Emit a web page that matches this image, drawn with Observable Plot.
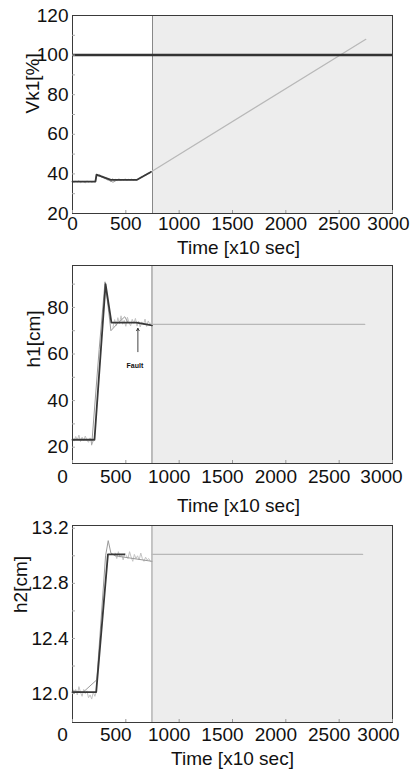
<!DOCTYPE html>
<html><head><meta charset="utf-8">
<script src="https://cdn.jsdelivr.net/npm/d3@7"></script>
<script src="https://cdn.jsdelivr.net/npm/@observablehq/plot@0.6"></script>
<style>
body{margin:0;background:#fff;width:412px;height:773px;overflow:hidden;position:relative;font-family:"Liberation Sans",Arial,sans-serif}
.p{position:absolute;left:0}
</style></head><body>
<div id="p1" class="p" style="top:0"></div>
<div id="p2" class="p" style="top:252px"></div>
<div id="p3" class="p" style="top:512px"></div>
<script>
// ---- shared axis data ----
const xTicks = [0, 500, 1000, 1500, 2000, 2500, 3000];
const xLabel = "Time [x10 sec]";

// ---- Panel 1 : Vk1 ----
const vk1Label = "Vk1[%]";
const vk1YTicks = [20, 40, 60, 80, 100, 120];
const vk1YMinor = [30, 40, 50, 60, 70, 80, 90, 100, 110];
const vk1Fault = 750;
const vk1Limit = 100;
const vk1NoiseT = [0,15,30,45,60,75,90,105,120,135,150,165,180,195,210,225,240,255,270,285,300,315,330,345,360,375,390,405,420,435,450,465,480,495,510,525,540,555,570,585,600,615,630,645,660,675,690,705,720,735,750];
const vk1NoiseV = [36.3,35.6,36.4,35.9,36.6,35.5,36.2,36.0,35.4,36.5,35.8,36.3,35.7,36.1,35.9,39.5,38.6,39.8,38.4,38.9,37.6,38.2,36.8,37.5,35.9,37.8,36.3,37.4,36.6,37.7,36.4,37.3,36.8,37.6,36.5,37.4,36.9,37.5,36.6,37.3,36.8,37.6,37.9,38.8,38.5,39.6,39.2,40.4,40.1,41.3,41.0];
const vk1ModelT = [0, 215, 225, 360, 605, 735];
const vk1ModelV = [36.1, 36.1, 39.6, 37.0, 37.0, 41.0];
const vk1EstT = [0, 215, 230, 380, 420, 605, 750];
const vk1EstV = [36.2, 36.2, 39.5, 35.8, 37.0, 37.0, 41.5];
const vk1PredT = [750, 2750];
const vk1PredV = [41.5, 108];

// ---- Panel 2 : h1 ----
const h1Label = "h1[cm]";
const h1YTicks = [20, 40, 60, 80];
const h1YMinor = [20, 30, 40, 50, 60, 70, 80, 90];
const h1Fault = 745;
const h1NoiseAT = [0,15,30,45,60,75,90,105,120,135,150,165,180,195];
const h1NoiseAV = [23.8,22.6,24.6,23.1,25.2,22.4,24.3,22.9,24.8,23.0,22.1,24.0,21.3,22.5];
const h1NoiseBT = [380,395,410,425,440,455,470,485,500,515,530,545,560,575,590,605,620,635,650,665,680,695,710,725,740];
const h1NoiseBV = [71.5,74.8,72.2,75.6,73.0,76.4,72.8,74.5,71.9,75.8,73.4,72.1,74.9,73.2,75.3,72.0,74.1,71.6,73.8,72.5,75.0,71.8,74.2,72.9,73.6];
const h1ModelT = [0, 206, 310, 365, 600, 745];
const h1ModelV = [23.2, 23.2, 90, 73.5, 73.5, 72.3];
const h1EstT = [180, 250, 305, 340, 360, 420, 490, 520];
const h1EstV = [21, 62, 91, 78, 70, 73, 76, 73.5];
const h1PredT = [745, 2740];
const h1PredV = [72.7, 72.7];
const faultText = "Fault";
const faultArrow = {x: 613, y1: 61, y2: 71, ty: 55};

// ---- Panel 3 : h2 ----
const h2Label = "h2[cm]";
const h2YTicks = [12.0, 12.4, 12.8, 13.2];
const h2YMinor = [12.0, 12.2, 12.4, 12.6, 12.8, 13.0, 13.2];
const h2Fault = 745;
const h2NoiseAT = [0,15,30,45,60,75,90,105,120,135,150,165,180,195,210,225];
const h2NoiseAV = [12.04,12.00,12.03,11.99,12.05,12.01,11.98,12.03,12.00,12.02,11.97,11.99,11.96,12.01,11.98,12.02];
const h2NoiseBT = [400,415,430,445,460,475,490,505,520,535,550,565,580,595,610,625,640,655,670,685,700,715,730];
const h2NoiseBV = [13.02,12.98,13.03,12.99,13.01,12.97,13.02,13.00,12.98,13.03,12.99,12.96,13.01,12.98,13.00,12.97,13.02,12.98,12.96,12.99,12.97,12.98,12.96];
const h2ModelT = [0, 222, 332, 485];
const h2ModelV = [12.01, 12.01, 13.01, 13.01];
const h2EstT = [0, 100, 228, 310, 335, 360, 400, 745];
const h2EstV = [12.02, 12.01, 12.1, 13.0, 13.11, 13.02, 13.0, 12.96];
const h2PredT = [745, 2720];
const h2PredV = [13.01, 13.01];

const zip = (T, V) => T.map((t, i) => ({t, v: V[i]}));
const FONT = "'Liberation Sans', Arial, sans-serif";
const FS = 19;

function panel(o) {
  const inner = xTicks.slice(0, -1), last = xTicks.slice(-1);
  const xText = (ticks, dx) => Plot.axisX(ticks, {anchor: "bottom", tickSize: 0, tickPadding: o.xPad, fontSize: FS, dx, tickFormat: d => String(d), label: null, fill: "#111"});
  const marks = [
    Plot.rect([{x1: o.fault, x2: 3000}], {x1: "x1", x2: "x2", y1: o.yDomain[0], y2: o.yDomain[1], fill: "#ededed"}),
    Plot.ruleX([o.fault], {stroke: o.faultStroke, strokeWidth: o.faultWidth}),
    ...o.noise.map(n => Plot.line(n, {x: "t", y: "v", stroke: "#c4c4c4", strokeWidth: 1})),
    Plot.line(o.est, {x: "t", y: "v", stroke: "#9a9a9a", strokeWidth: 1}),
    Plot.line(o.model, {x: "t", y: "v", stroke: "#383838", strokeWidth: 1.8}),
    Plot.line(o.pred, {x: "t", y: "v", stroke: "#b8b8b8", strokeWidth: 1.2}),
    ...(o.extra || []),
    Plot.frame({stroke: "#3a3a3a", strokeWidth: 1}),
    Plot.axisX(xTicks, {anchor: "bottom", tickSize: -3, tickFormat: () => "", stroke: "#999", label: null}),
    xText(inner, o.xdx),
    xText(last, o.xdxLast),
    Plot.axisY(o.yMinor, {anchor: "left", tickSize: -3, tickFormat: () => "", stroke: "#aaa", label: null}),
    Plot.axisY(o.yTicks, {anchor: "left", tickSize: 0, tickPadding: 4, fontSize: FS, tickFormat: o.yFormat, label: null, fill: "#111"}),
    Plot.text([xLabel], {frameAnchor: "bottom", text: d => d, dy: o.xLabelDy, dx: o.xLabelDx, fontSize: FS, lineAnchor: "middle", fill: "#111"}),
    Plot.text([o.yLabel], {frameAnchor: "left", text: d => d, rotate: -90, dx: o.yLabelDx, dy: o.yLabelDy, fontSize: FS, lineAnchor: "middle", fill: "#111"})
  ];
  return Plot.plot({
    width: 412, height: o.height,
    marginTop: o.marginTop, marginBottom: o.marginBottom, marginLeft: 72, marginRight: 20,
    style: {fontFamily: FONT, fontSize: FS + "px", background: "transparent", overflow: "visible"},
    x: {domain: [0, 3000], label: null},
    y: {domain: o.yDomain, label: null},
    marks
  });
}

document.getElementById("p1").append(panel({
  height: 252, marginTop: 15, marginBottom: 39,
  yDomain: [20, 120], yTicks: vk1YTicks, yMinor: vk1YMinor, yFormat: d => String(d),
  fault: vk1Fault, faultStroke: "#888", faultWidth: 1,
  noise: [zip(vk1NoiseT, vk1NoiseV)], est: zip(vk1EstT, vk1EstV), model: zip(vk1ModelT, vk1ModelV), pred: zip(vk1PredT, vk1PredV),
  extra: [Plot.ruleY([vk1Limit], {stroke: "#333", strokeWidth: 2.5, x1: 0, x2: 3000})],
  xdx: 0, xdxLast: -4, xPad: 3, xLabelDy: 34, xLabelDx: 6, yLabel: vk1Label, yLabelDx: -40, yLabelDy: -1
}));

document.getElementById("p2").append(panel({
  height: 260, marginTop: 13, marginBottom: 49,
  yDomain: [13, 98], yTicks: h1YTicks, yMinor: h1YMinor, yFormat: d => String(d),
  fault: h1Fault, faultStroke: "#aaa", faultWidth: 1.5,
  noise: [zip(h1NoiseAT, h1NoiseAV), zip(h1NoiseBT, h1NoiseBV)], est: zip(h1EstT, h1EstV), model: zip(h1ModelT, h1ModelV), pred: zip(h1PredT, h1PredV),
  extra: [
    Plot.arrow([faultArrow], {x1: "x", x2: "x", y1: "y1", y2: "y2", stroke: "#111", strokeWidth: 0.8, headLength: 5}),
    Plot.text([faultArrow], {x: "x", y: "ty", text: () => faultText, fontSize: 7, fontWeight: "bold", dx: -3, fill: "#111"})
  ],
  xdx: -10, xdxLast: -11, xPad: 6, xLabelDy: 42, xLabelDx: 6, yLabel: h1Label, yLabelDx: -39, yLabelDy: 3
}));

document.getElementById("p3").append(panel({
  height: 261, marginTop: 13, marginBottom: 51,
  yDomain: [11.79, 13.22], yTicks: h2YTicks, yMinor: h2YMinor, yFormat: d => d.toFixed(1),
  fault: h2Fault, faultStroke: "#999", faultWidth: 1,
  noise: [zip(h2NoiseAT, h2NoiseAV), zip(h2NoiseBT, h2NoiseBV)], est: zip(h2EstT, h2EstV), model: zip(h2ModelT, h2ModelV), pred: zip(h2PredT, h2PredV),
  xdx: -10, xdxLast: -14, xPad: 5, xLabelDy: 36, xLabelDx: 0, yLabel: h2Label, yLabelDx: -52, yLabelDy: -11
}));
</script>
</body></html>
